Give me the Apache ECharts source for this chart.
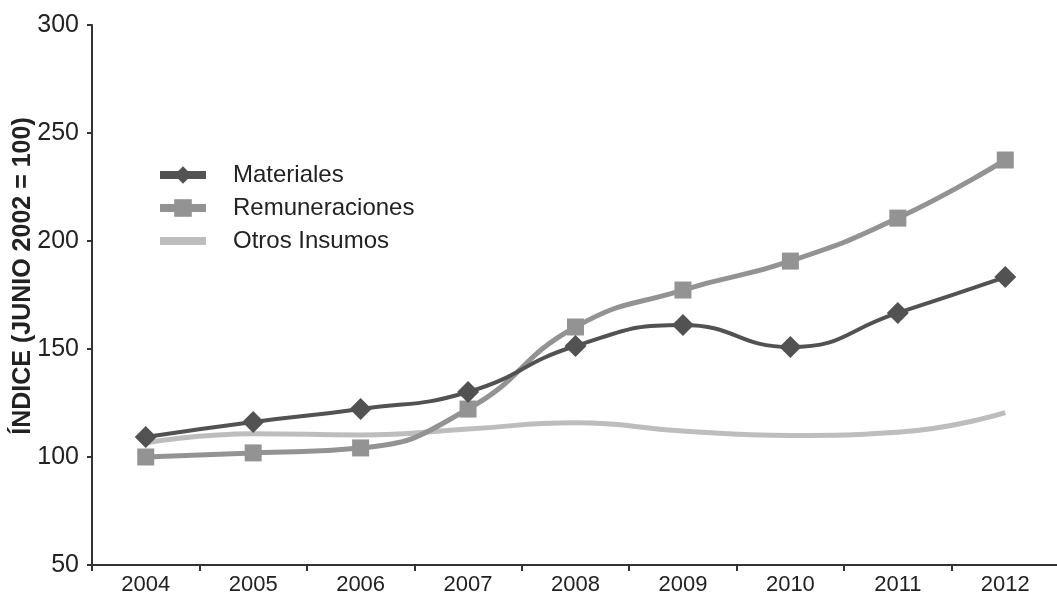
<!DOCTYPE html>
<html><head><meta charset="utf-8">
<script src="https://cdn.jsdelivr.net/npm/echarts@6/dist/echarts.min.js"></script>
<style>html,body{margin:0;padding:0;background:#fff}#c{width:1057px;height:599px}</style>
</head><body><div id="c"></div>
<script>
var years = ['2004','2005','2006','2007','2008','2009','2010','2011','2012'];
var materiales = [109.3, 116.2, 122.2, 130.1, 151.4, 161.1, 150.9, 166.7, 183.3];
var remuneraciones = [100.0, 101.9, 104.2, 122.2, 160.2, 177.3, 190.7, 210.6, 237.5];
var otros = [106.5, 110.8, 110.2, 113.0, 115.8, 112.0, 110.0, 111.5, 120.5];
var yTicks = [50, 100, 150, 200, 250, 300];

var chart = echarts.init(document.getElementById('c'));
var ff = '"Liberation Sans", Arial, sans-serif';
chart.setOption({
  animation: false,
  textStyle: {fontFamily: ff},
  grid: {left: 92, top: 25, width: 967, height: 540, containLabel: false, outerBoundsMode: 'none'},
  legend: {
    orient: 'vertical', left: 151, top: 158, itemWidth: 46, itemHeight: 22, itemGap: 9,
    lineStyle: {width: 8},
    textStyle: {fontSize: 24, color: '#222', fontFamily: ff, padding: [0, 0, 0, 22]},
    data: [
      {name: 'Materiales'},
      {name: 'Remuneraciones'},
      {name: 'Otros Insumos', itemStyle: {opacity: 0}}
    ]
  },
  xAxis: {
    type: 'category', data: years, boundaryGap: true,
    axisLine: {lineStyle: {color: '#333', width: 2}},
    axisTick: {show: true, length: 6, lineStyle: {color: '#333', width: 2}},
    axisLabel: {fontSize: 22, color: '#222', margin: 9, fontFamily: ff},
    splitLine: {show: false}
  },
  yAxis: {
    type: 'value', min: yTicks[0], max: yTicks[yTicks.length - 1], interval: 50,
    name: 'ÍNDICE (JUNIO 2002 = 100)', nameLocation: 'middle', nameGap: 56, nameMoveOverlap: false,
    nameTextStyle: {fontSize: 25, fontWeight: 'bold', color: '#222', fontFamily: ff, padding: [0, 0, 0, 38]},
    axisLine: {show: true, lineStyle: {color: '#333', width: 2}},
    axisTick: {show: true, length: 5, lineStyle: {color: '#333', width: 2}},
    axisLabel: {fontSize: 25, color: '#222', margin: 13, fontFamily: ff},
    splitLine: {show: false}
  },
  series: [
    {name: 'Otros Insumos', type: 'line', data: otros, smooth: 0.5, symbol: 'none',
     lineStyle: {color: '#bdbdc0', width: 5}, itemStyle: {color: '#bdbdc0'}, z: 1},
    {name: 'Remuneraciones', type: 'line', data: remuneraciones, smooth: 0.5, symbol: 'rect', symbolSize: 17,
     lineStyle: {color: '#939393', width: 5}, itemStyle: {color: '#939393'}, z: 2},
    {name: 'Materiales', type: 'line', data: materiales, smooth: 0.5, symbol: 'diamond', symbolSize: [22, 22],
     lineStyle: {color: '#525252', width: 4}, itemStyle: {color: '#525252'}, z: 3}
  ]
});
</script></body></html>
